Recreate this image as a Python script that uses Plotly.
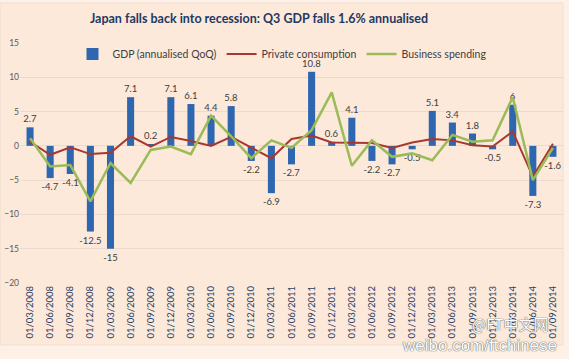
import plotly.graph_objects as go

quarters = ["01/03/2008", "01/06/2008", "01/09/2008", "01/12/2008",
            "01/03/2009", "01/06/2009", "01/09/2009", "01/12/2009",
            "01/03/2010", "01/06/2010", "01/09/2010", "01/12/2010",
            "01/03/2011", "01/06/2011", "01/09/2011", "01/12/2011",
            "01/03/2012", "01/06/2012", "01/09/2012", "01/12/2012",
            "01/03/2013", "01/06/2013", "01/09/2013", "01/12/2013",
            "01/03/2014", "01/06/2014", "01/09/2014"]

gdp = [2.7, -4.7, -4.1, -12.5, -15, 7.1, 0.2, 7.1, 6.1, 4.4, 5.8, -2.2, -6.9,
       -2.7, 10.8, 0.6, 4.1, -2.2, -2.7, -0.5, 5.1, 3.4, 1.8, -0.5, 6, -7.3, -1.6]

private_consumption = [0.6, -1.3, -0.2, -1.2, -1.0, 1.4, -0.1, 1.3, 0.7, 0.0,
                       1.3, -0.2, -1.8, 1.0, 1.5, 0.5, 0.4, 0.4, -0.3, 0.5,
                       1.0, 0.8, 0.1, -0.1, 2.1, -4.5, 0.3]

business_spending = [1.1, -3.0, -2.8, -8.1, -2.5, -5.4, -0.6, -0.1, -1.2, 4.4,
                     1.4, -1.8, 0.8, -0.3, 2.3, 7.8, -2.9, 0.8, -1.6, -1.1,
                     -2.1, 1.6, 0.6, 0.8, 7.1, -5.0, -0.3]

gdp_labels = ["2.7", "-4.7", "-4.1", "-12.5", "-15", "7.1", "0.2", "7.1", "6.1",
              "4.4", "5.8", "-2.2", "-6.9", "-2.7", "10.8", "0.6", "4.1", "-2.2",
              "-2.7", "-0.5", "5.1", "3.4", "1.8", "-0.5", "6", "-7.3", "-1.6"]

y_ticks = [15, 10, 5, 0, -5, -10, -15, -20]

BG = "#FCE9DA"
OUTER = "#FDF1E7"
FONT = "Lato"

fig = go.Figure()
fig.add_trace(go.Bar(
    x=quarters, y=gdp, name="GDP (annualised QoQ)",
    marker=dict(color="#2F66B0", line=dict(width=0)),
    text=gdp_labels, textposition="outside", constraintext="none",
    textfont=dict(size=9.5, color="#404040", family=FONT),
    cliponaxis=False,
))
fig.add_trace(go.Scatter(
    x=quarters, y=private_consumption, name="Private consumption",
    mode="lines", line=dict(color="#A8372F", width=2),
))
fig.add_trace(go.Scatter(
    x=quarters, y=business_spending, name="Business spending",
    mode="lines", line=dict(color="#9BBB59", width=2.5),
))

fig.update_layout(
    width=569, height=359,
    paper_bgcolor=OUTER, plot_bgcolor="rgba(0,0,0,0)",
    margin=dict(l=20, r=6, t=43, b=76),
    bargap=0.65,
    font=dict(family=FONT, color="#404040"),
    title=dict(
        text="<b>Japan falls back into recession: Q3 GDP falls 1.6% annualised</b>",
        x=259 / 569, xref="container", xanchor="center",
        y=1 - 19 / 359, yref="container", yanchor="middle",
        font=dict(size=12.5, color="#1F3864", family=FONT),
    ),
    legend=dict(
        orientation="h", xref="paper", yref="paper",
        x=(282 - 20) / 543, xanchor="center", y=1 - (54 - 43) / 240,
        yanchor="middle", itemwidth=30,
        bgcolor="rgba(0,0,0,0)",
        font=dict(size=10.5, color="#404040", family=FONT),
        traceorder="normal",
    ),
    xaxis=dict(
        type="category", tickangle=-90, automargin=False,
        tickfont=dict(size=9.5, color="#2B3F66", family=FONT),
        showgrid=False, zeroline=False, showline=False, ticks="",
    ),
    yaxis=dict(
        range=[-20, 15], tickvals=y_ticks, automargin=False,
        tickfont=dict(size=8.5, color="#595959", family=FONT),
        gridcolor="#EBDACD", gridwidth=1, zeroline=False, showline=False,
    ),
    shapes=[
        dict(type="rect", xref="paper", yref="paper", layer="below",
             x0=(0 - 20) / 543, x1=(563 - 20) / 543,
             y0=1 - (345 - 43) / 240, y1=1 - (3 - 43) / 240,
             fillcolor=BG, line=dict(color="#EEDFD2", width=1)),
    ],
    annotations=[
        dict(text="@FT中文网", xref="paper", yref="paper",
             x=(510 - 20) / 543, y=1 - (323 - 43) / 240, showarrow=False,
             font=dict(size=15, color="white", family="Noto Sans CJK SC",
                       shadow="0px 0px 1px #555, 0px 0px 1px #555"),
             xanchor="center", yanchor="middle"),
        dict(text="weibo.com/ftchinese", xref="paper", yref="paper",
             x=(480 - 20) / 543, y=1 - (345 - 43) / 240, showarrow=False,
             font=dict(size=17, color="white", family="Liberation Sans",
                       shadow="0px 0px 1px #555, 0px 0px 1px #555"),
             xanchor="center", yanchor="middle"),
    ],
)

fig.write_html("out.html",
               config={"displayModeBar": False},
               post_script="document.body.style.margin='0px';"
                           "document.body.style.overflow='hidden';")
